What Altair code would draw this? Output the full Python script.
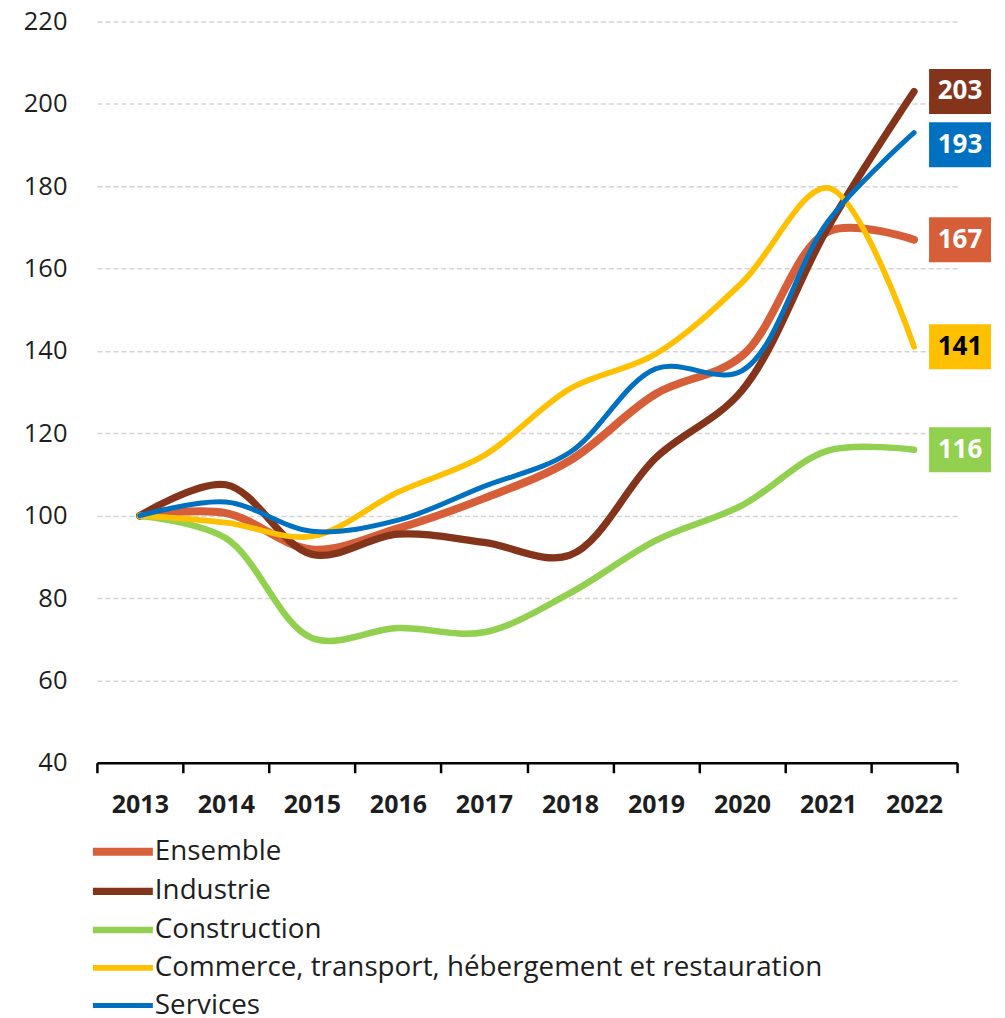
import altair as alt
import pandas as pd

years = [2013, 2014, 2015, 2016, 2017, 2018, 2019, 2020, 2021, 2022]
series_names = ["Ensemble", "Industrie", "Construction",
                "Commerce, transport, hébergement et restauration", "Services"]
ensemble = [100, 100.6, 91.8, 96.9, 104.2, 113.4, 129.6, 138.8, 169, 167]
industrie = [100, 107.5, 90.6, 95.5, 93.5, 90.4, 114.1, 130.4, 170, 203]
construction = [100, 94.5, 70.3, 72.7, 71.7, 81.2, 94, 102.5, 115.8, 116]
commerce = [100, 98.3, 95.0, 105.7, 114.6, 130.8, 139.3, 156.6, 179.6, 141]
services = [100, 103.3, 96.2, 98.9, 107.1, 115.4, 135.7, 135.2, 171.5, 193]
colors = ["#D65F3A", "#84341B", "#92D050", "#FFC000", "#0070C0"]
widths = [8, 5, 5, 5, 5]
y_ticks = [40, 60, 80, 100, 120, 140, 160, 180, 200, 220]
x_ticks = [2012.5, 2013.5, 2014.5, 2015.5, 2016.5, 2017.5, 2018.5, 2019.5, 2020.5, 2021.5, 2022.5]

FONT = "Open Sans"
all_vals = [ensemble, industrie, construction, commerce, services]
rows = []
for i, (name, vals) in enumerate(zip(series_names, all_vals)):
    for y, v in zip(years, vals):
        rows.append({"series": name, "year": y, "value": v, "ord": i})
df = pd.DataFrame(rows)

lab = pd.DataFrame({
    "series": series_names,
    "value": [v[-1] for v in all_vals],
    "text": [str(int(round(v[-1]))) for v in all_vals],
})

W, H = 861, 742
xscale = alt.Scale(domain=[2012.5, 2022.5], nice=False, zero=False)
yscale = alt.Scale(domain=[40, 220], nice=False, zero=False)

legend = alt.Legend(
    orient="none", legendX=12, legendY=817, title=None,
    symbolType="M-3,0H3", symbolSize=400, labelOffset=18,
    labelFontSize=27.8, labelFont=FONT, labelColor="#1e1e1e",
    rowPadding=8.8, labelLimit=0, padding=0,
)

lines = alt.Chart(df).mark_line(
    interpolate="catmull-rom", strokeCap="round", strokeJoin="round"
).encode(
    x=alt.X("year:Q", scale=xscale, title=None, axis=alt.Axis(
        values=x_ticks, grid=False, domain=True, domainColor="#000000",
        domainWidth=2.5, ticks=True, tickColor="#000000", tickWidth=2.5,
        tickSize=10, labelExpr="datum.value < 2022 ? toString(datum.value + 0.5) : ''",
        labelOffset=43, labelFlush=False, labelOverlap=False, labelPadding=20,
        labelFont=FONT, labelFontSize=25, labelFontWeight="bold", labelColor="#1e1e1e",
    )),
    y=alt.Y("value:Q", scale=yscale, title=None, axis=alt.Axis(
        values=y_ticks, grid=True, gridColor="#d4d4d4", gridDash=[5, 3],
        gridWidth=1.5, domain=False, ticks=False, labelPadding=30,
        labelFont=FONT, labelFontSize=25.5, labelColor="#1e1e1e",
    )),
    color=alt.Color("series:N", scale=alt.Scale(domain=series_names, range=colors),
                    legend=legend),
    strokeWidth=alt.StrokeWidth("series:N", scale=alt.Scale(domain=series_names, range=widths),
                                legend=legend),
    order=alt.Order("ord:Q"),
    detail="series:N",
)

boxes = alt.Chart(lab).mark_rect(yOffset=-22.5, y2Offset=22.5).encode(
    x=alt.value(833), x2=alt.value(895),
    y=alt.Y("value:Q", scale=yscale),
    y2="value:Q",
    color=alt.Color("series:N", scale=alt.Scale(domain=series_names, range=colors), legend=None),
)
texts = alt.Chart(lab).mark_text(
    font=FONT, fontSize=26, fontWeight="bold", align="center", baseline="middle"
).encode(
    x=alt.value(864), y=alt.Y("value:Q", scale=yscale),
    text="text:N",
    color=alt.condition(alt.datum.series == series_names[3], alt.value("#000000"), alt.value("#ffffff")),
)

nudge = alt.datum.series == "Services"
boxes_a = boxes.transform_filter(~nudge)
texts_a = texts.transform_filter(~nudge)
boxes_b = alt.Chart(lab).mark_rect(yOffset=-22.5 + 12, y2Offset=22.5 + 12).encode(
    x=alt.value(833), x2=alt.value(895),
    y=alt.Y("value:Q", scale=yscale), y2="value:Q",
    color=alt.Color("series:N", scale=alt.Scale(domain=series_names, range=colors), legend=None),
).transform_filter(nudge)
texts_b = alt.Chart(lab).mark_text(
    font=FONT, fontSize=26, fontWeight="bold", align="center", baseline="middle", dy=12
).encode(
    x=alt.value(864), y=alt.Y("value:Q", scale=yscale), text="text:N",
    color=alt.value("#ffffff"),
).transform_filter(nudge)

chart = alt.layer(lines, boxes_a, texts_a, boxes_b, texts_b).properties(
    width=W, height=H,
    autosize=alt.AutoSizeParams(type="none"),
    padding={"left": 89, "top": 13, "right": 40, "bottom": 258},
).configure_view(stroke=None)

chart.save("out.html", embed_options={"renderer": "svg", "actions": False})
